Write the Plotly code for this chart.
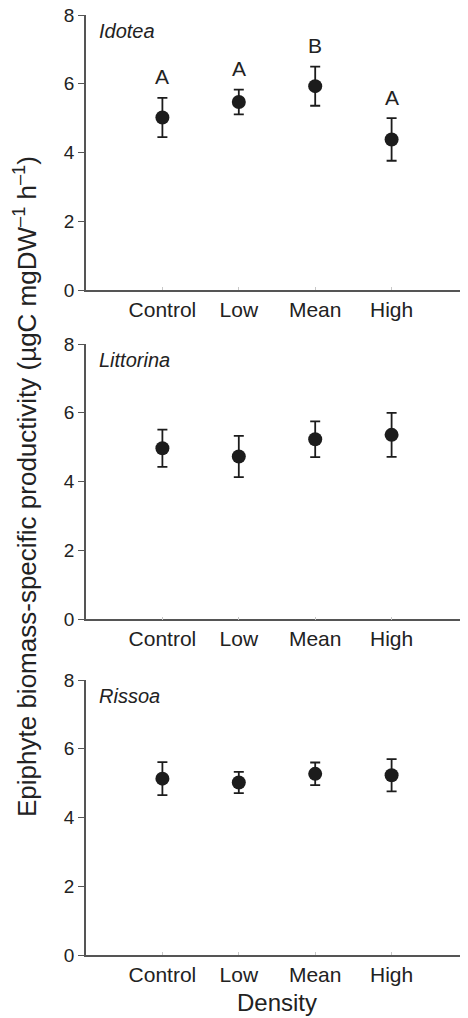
import plotly.graph_objects as go

categories = ["Control", "Low", "Mean", "High"]
species = ["Idotea", "Littorina", "Rissoa"]

idotea_mean = [5.02, 5.47, 5.93, 4.38]
idotea_err = [0.57, 0.36, 0.57, 0.62]
idotea_letters = ["A", "A", "B", "A"]

littorina_mean = [4.97, 4.73, 5.23, 5.36]
littorina_err = [0.54, 0.60, 0.52, 0.64]

rissoa_mean = [5.13, 5.02, 5.27, 5.23]
rissoa_err = [0.48, 0.31, 0.33, 0.47]

y_ticks = [0, 2, 4, 6, 8]

means = [idotea_mean, littorina_mean, rissoa_mean]
errs = [idotea_err, littorina_err, rissoa_err]

# page has an 8px body margin, so the figure is drawn 8px smaller
OFF = 8
W, H = 468 - OFF, 1018 - OFF
left = 86 - OFF
top = 15 - OFF
bottom = H - (955 - OFF)
plot_h = H - top - bottom
plot_w = W - left
# panel pixel extents (top, bottom) in page coords
panels_px = [(15, 290), (344, 619.3), (680, 955)]
domains = [[((955 - b)) / plot_h, ((955 - t)) / plot_h] for t, b in panels_px]

FONT = "Liberation Sans, Arial, Helvetica, sans-serif"
AX = "#555555"
DOT = "#1c1c1c"
TXT = "#222222"

fig = go.Figure()
layout = dict(
    width=W, height=H,
    margin=dict(l=left, r=0, t=top, b=bottom, autoexpand=False),
    paper_bgcolor="white", plot_bgcolor="white",
    showlegend=False,
    font=dict(family=FONT, size=20, color=TXT),
)

annotations = []
for i in range(3):
    xa = "x" if i == 0 else f"x{i+1}"
    ya = "y" if i == 0 else f"y{i+1}"
    fig.add_trace(go.Scatter(
        x=categories, y=means[i], xaxis=xa, yaxis=ya,
        mode="markers",
        marker=dict(size=14, color=DOT),
        error_y=dict(type="data", array=errs[i], visible=True,
                     color=DOT, thickness=1.8, width=5),
        cliponaxis=False,
    ))
    xkey = "xaxis" if i == 0 else f"xaxis{i+1}"
    ykey = "yaxis" if i == 0 else f"yaxis{i+1}"
    layout[xkey] = dict(
        domain=[0, 1], anchor=ya, type="category",
        range=[-1, 4], showgrid=False, zeroline=False,
        showline=True, linecolor=AX, linewidth=1.5,
        ticks="inside", ticklen=3, tickcolor="#c8c8c8", tickwidth=1,
        tickfont=dict(size=21, color=TXT),
        automargin=False, fixedrange=True,
    )
    layout[ykey] = dict(
        domain=domains[i], anchor=xa,
        range=[0, 8], tickvals=y_ticks, showgrid=False, zeroline=False,
        showline=True, linecolor=AX, linewidth=1.5,
        ticks="outside", ticklen=6, tickcolor=AX, tickwidth=1.2,
        tickfont=dict(size=19, color=TXT), ticklabeloverflow="allow",
        automargin=False, fixedrange=True,
    )
    annotations.append(dict(
        text=f"<i>{species[i]}</i>", xref=f"{xa} domain", yref=f"{ya} domain",
        x=0.03, y=0.99, xanchor="left", yanchor="top", showarrow=False,
        font=dict(size=20, color=TXT),
    ))

for c, m, e, letter in zip(categories, idotea_mean, idotea_err, idotea_letters):
    annotations.append(dict(
        text=letter, x=c, y=m + e + 0.22, xref="x", yref="y",
        xanchor="center", yanchor="bottom", showarrow=False,
        font=dict(size=21, color=TXT),
    ))

annotations.append(dict(
    text="Density", xref="paper", yref="paper", x=0.5, y=0, yshift=-47,
    xanchor="center", yanchor="middle", showarrow=False,
    font=dict(size=24, color=TXT),
))

annotations.append(dict(
    text="Epiphyte biomass-specific productivity (µgC mgDW<sup>–1</sup> h<sup>–1</sup>)",
    xref="paper", yref="paper", x=(25 - 86) / plot_w, y=(955 - 487) / plot_h,
    xanchor="center", yanchor="middle", textangle=-90, showarrow=False,
    font=dict(size=26, color=TXT),
))
layout["annotations"] = annotations

fig.update_layout(**layout)
fig.write_html("out.html")
